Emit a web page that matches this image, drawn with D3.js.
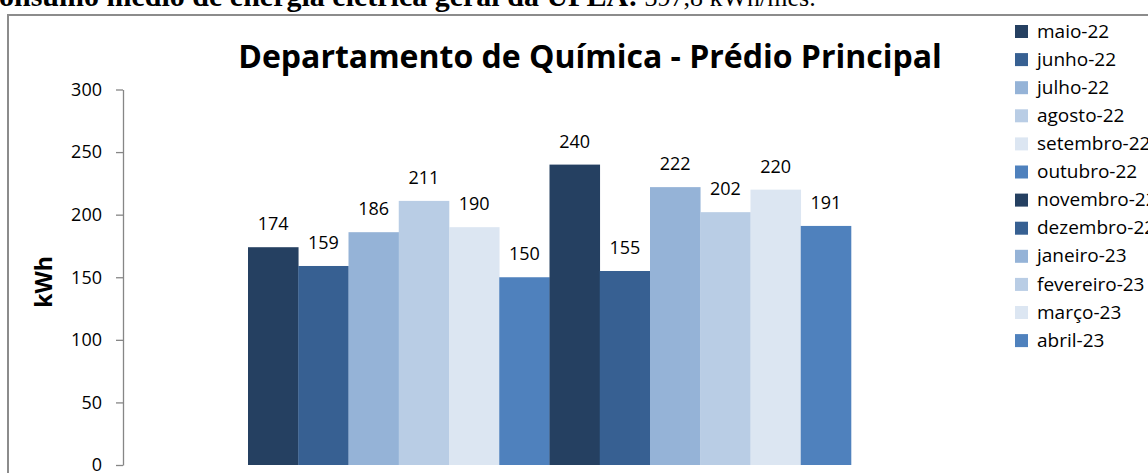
<!DOCTYPE html>
<html>
<head>
<meta charset="utf-8">
<script src="https://cdn.jsdelivr.net/npm/d3@7/dist/d3.min.js"></script>
<style>
  html, body { margin: 0; padding: 0; background: #ffffff; overflow: hidden; }
  svg { display: block; }
</style>
</head>
<body>
<svg id="chart" width="1148" height="473"></svg>
<script>
// ---- Data ----
const months = ["maio-22","junho-22","julho-22","agosto-22","setembro-22","outubro-22",
                "novembro-22","dezembro-22","janeiro-23","fevereiro-23","março-23","abril-23"];
const values = [174, 159, 186, 211, 190, 150, 240, 155, 222, 202, 220, 191];
const colors = ["#254061","#376092","#95B3D7","#B9CDE5","#DCE6F2","#4F81BD",
                "#254061","#376092","#95B3D7","#B9CDE5","#DCE6F2","#4F81BD"];
const yTicks = [0, 50, 100, 150, 200, 250, 300];
const categories = ["Consumo"];
const chartTitle = "Departamento de Química - Prédio Principal";
const yTitle = "kWh";
const headBold = "Consumo médio de energia elétrica geral da UFLA:";
const headNormal = " 397,8 kWh/mês.";

const svg = d3.select("#chart");
const W = 1148, H = 473;
const headFont = "'Liberation Serif', 'Times New Roman', serif";
const headSize = 30;

// ---- Heading text (cut off at top) ----
const head = svg.append("text")
  .attr("y", 6)
  .attr("font-family", headFont)
  .attr("font-size", headSize)
  .attr("fill", "#000");
head.append("tspan").attr("font-weight", "bold").text(headBold);
head.append("tspan").attr("font-size", 26).text(headNormal);
const tmp = svg.append("text")
  .attr("font-family", headFont)
  .attr("font-size", headSize).attr("font-weight", "bold").text("C");
const cW = tmp.node().getComputedTextLength();
tmp.remove();
head.attr("x", -cW - 1);

// ---- Frame ----
svg.append("path")
  .attr("d", `M8,${H} V15 H${W}`)
  .attr("fill", "none")
  .attr("stroke", "#8c8c8c")
  .attr("stroke-width", 2);

// ---- Scales ----
const plotLeft = 123, plotRight = 976, plotTop = 89.5, plotBottom = 465;
const y = d3.scaleLinear().domain([0, 300]).range([plotBottom, plotTop]);
const x0 = d3.scaleBand().domain(categories).range([plotLeft, plotRight])
  .paddingInner(0).paddingOuter(0.2073);
const x1 = d3.scaleBand().domain(months).range([0, x0.bandwidth()]).padding(0);

// ---- Y axis ----
const yAxis = d3.axisLeft(y).tickValues(yTicks).tickSize(7).tickSizeOuter(0).tickPadding(14);
const gy = svg.append("g").attr("transform", `translate(${plotLeft},0)`).call(yAxis);
gy.select(".domain").attr("stroke", "#868686").attr("stroke-width", 1.3);
gy.selectAll(".tick line").attr("stroke", "#868686").attr("stroke-width", 1.3);
gy.selectAll(".tick text")
  .attr("font-family", "'Open Sans', sans-serif")
  .attr("font-size", 18)
  .attr("fill", "#000");

// ---- Y title ----
svg.append("text")
  .attr("transform", "translate(52,282) rotate(-90)")
  .attr("text-anchor", "middle")
  .attr("font-family", "'Open Sans', sans-serif")
  .attr("font-weight", "bold")
  .attr("font-size", 23)
  .attr("fill", "#000")
  .text(yTitle);

// ---- Bars ----
const gBars = svg.append("g").attr("transform", `translate(${x0(categories[0])},0)`);
gBars.selectAll("rect")
  .data(months.map((m, i) => ({ m, v: values[i], c: colors[i] })))
  .join("rect")
  .attr("x", d => x1(d.m))
  .attr("y", d => y(d.v))
  .attr("width", x1.bandwidth() + 0.3)
  .attr("height", d => y(0) - y(d.v))
  .attr("fill", d => d.c);

gBars.selectAll("text.lbl")
  .data(months.map((m, i) => ({ m, v: values[i] })))
  .join("text")
  .attr("class", "lbl")
  .attr("x", d => x1(d.m) + x1.bandwidth() / 2)
  .attr("y", d => y(d.v) - 17)
  .attr("text-anchor", "middle")
  .attr("font-family", "'Open Sans', sans-serif")
  .attr("font-size", 18)
  .attr("fill", "#000")
  .text(d => d.v);

// ---- Title ----
svg.append("text")
  .attr("x", 590)
  .attr("y", 68)
  .attr("text-anchor", "middle")
  .attr("font-family", "'Open Sans', sans-serif")
  .attr("font-weight", "bold")
  .attr("font-size", 32)
  .attr("fill", "#000")
  .text(chartTitle);

// ---- Legend ----
const lg = svg.append("g");
const rows = lg.selectAll("g")
  .data(months.map((m, i) => ({ m, c: colors[i], i })))
  .join("g")
  .attr("transform", d => `translate(1015,${31 + d.i * 28.1})`);
rows.append("rect")
  .attr("x", 0).attr("y", -6)
  .attr("width", 13).attr("height", 13)
  .attr("fill", d => d.c);
rows.append("text")
  .attr("x", 22)
  .attr("y", 0)
  .attr("dy", "0.35em")
  .attr("font-family", "'Open Sans', sans-serif")
  .attr("font-size", 19)
  .attr("fill", "#000")
  .text(d => d.m);
</script>
</body>
</html>
